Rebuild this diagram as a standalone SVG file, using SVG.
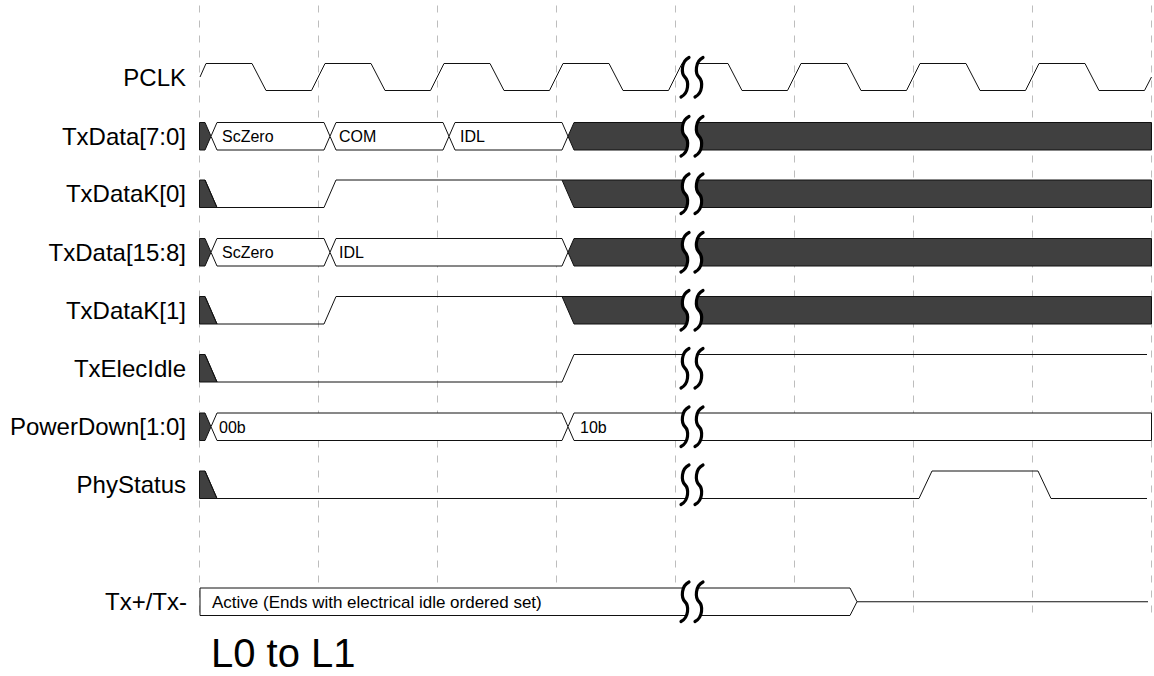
<svg xmlns="http://www.w3.org/2000/svg" width="1154" height="676" viewBox="0 0 1154 676">
<style>
.grid{stroke:#bdbdbd;stroke-width:1;stroke-dasharray:7 8;fill:none}
.w{fill:none;stroke:#111;stroke-width:1}
.box{fill:#fff;stroke:#111;stroke-width:1}
.dark{fill:#404040;stroke:#111;stroke-width:1}
.lbl{font-family:"Liberation Sans",Arial,sans-serif;font-size:24px;fill:#000;text-anchor:end}
.val{font-family:"Liberation Sans",Arial,sans-serif;font-size:16px;fill:#000}
.brk{fill:none;stroke:#000;stroke-width:3.2;stroke-linecap:round}
.gap{fill:#fff;stroke:none}
</style>
<defs>
<g id="brkshape">
<path class="gap" d="M689,-6 C681,-2 681,9.75 685,13.75 S689,29.5 681,33.5 L695,33.5 C703,29.5 703,17.75 699,13.75 S695,-2 703,-6 Z"/>
<path class="brk" d="M689,-6 C681,-2 681,9.75 685,13.75 S689,29.5 681,33.5"/>
<path class="brk" d="M703,-6 C695,-2 695,9.75 699,13.75 S703,29.5 695,33.5"/>
</g>
</defs>
<g id="grid">
<line class="grid" x1="199.5" y1="5.5" x2="199.5" y2="618"/>
<line class="grid" x1="318.5" y1="5.5" x2="318.5" y2="618"/>
<line class="grid" x1="437.5" y1="5.5" x2="437.5" y2="618"/>
<line class="grid" x1="556.5" y1="5.5" x2="556.5" y2="618"/>
<line class="grid" x1="675.5" y1="5.5" x2="675.5" y2="618"/>
<line class="grid" x1="794.5" y1="5.5" x2="794.5" y2="618"/>
<line class="grid" x1="913.5" y1="5.5" x2="913.5" y2="618"/>
<line class="grid" x1="1032.5" y1="5.5" x2="1032.5" y2="618"/>
<line class="grid" x1="1151.5" y1="5.5" x2="1151.5" y2="618"/>
</g>
<g id="PCLK">
<text class="lbl" x="186" y="85.5">PCLK</text>
<path class="w" d="M200,77 L206,63.5 H252 L266,90.5 H311.5 L325,63.5 H371 L385,90.5 H430.5 L444,63.5 H490 L504,90.5 H549.5 L563,63.5 H609 L623,90.5 H668.5 L682,63.5 H728 L742,90.5 H787.5 L801,63.5 H847 L861,90.5 H906.5 L920,63.5 H966 L980,90.5 H1025.5 L1039,63.5 H1085 L1099,90.5 H1144.5 L1151.5,77"/>
<use href="#brkshape" transform="translate(0,63.5)"/>
</g>
<g id="TxData70">
<text class="lbl" x="186" y="144.5">TxData[7:0]</text>
<polygon class="dark" points="199.5,122.5 205,122.5 211,136.25 205,150 199.5,150"/>
<polygon class="box" points="211,136.25 217,122.5 324,122.5 330,136.25 324,150 217,150"/>
<polygon class="box" points="330,136.25 336,122.5 443,122.5 449,136.25 443,150 336,150"/>
<polygon class="box" points="449,136.25 455,122.5 562,122.5 568,136.25 562,150 455,150"/>
<polygon class="dark" points="568,136.25 574,122.5 1151.5,122.5 1151.5,150 574,150"/>
<text class="val" x="222" y="142">ScZero</text>
<text class="val" x="339" y="142">COM</text>
<text class="val" x="460" y="142">IDL</text>
<use href="#brkshape" transform="translate(0,122.5)"/>
</g>
<g id="TxDataK0">
<text class="lbl" x="186" y="202">TxDataK[0]</text>
<polygon class="dark" points="199.5,180 205,180 217,207.5 199.5,207.5"/>
<path class="w" d="M205,180 L217,207.5 H324 L336,180 H562"/>
<polygon class="dark" points="562,180 1151.5,180 1151.5,207.5 574,207.5"/>
<use href="#brkshape" transform="translate(0,180)"/>
</g>
<g id="TxData158">
<text class="lbl" x="186" y="260.5">TxData[15:8]</text>
<polygon class="dark" points="199.5,238.5 205,238.5 211,252.25 205,266 199.5,266"/>
<polygon class="box" points="211,252.25 217,238.5 324,238.5 330,252.25 324,266 217,266"/>
<polygon class="box" points="330,252.25 336,238.5 562,238.5 568,252.25 562,266 336,266"/>
<polygon class="dark" points="568,252.25 574,238.5 1151.5,238.5 1151.5,266 574,266"/>
<text class="val" x="222" y="258">ScZero</text>
<text class="val" x="339" y="258">IDL</text>
<use href="#brkshape" transform="translate(0,238.5)"/>
</g>
<g id="TxDataK1">
<text class="lbl" x="186" y="318.5">TxDataK[1]</text>
<polygon class="dark" points="199.5,296.5 205,296.5 217,324 199.5,324"/>
<path class="w" d="M205,296.5 L217,324 H324 L336,296.5 H562"/>
<polygon class="dark" points="562,296.5 1151.5,296.5 1151.5,324 574,324"/>
<use href="#brkshape" transform="translate(0,296.5)"/>
</g>
<g id="TxElecIdle">
<text class="lbl" x="186" y="376.5">TxElecIdle</text>
<polygon class="dark" points="199.5,354.5 205,354.5 217,382 199.5,382"/>
<path class="w" d="M205,354.5 L217,382 H562 L574,354.5 H1147"/>
<use href="#brkshape" transform="translate(0,354.5)"/>
</g>
<g id="PowerDown">
<text class="lbl" x="186" y="435">PowerDown[1:0]</text>
<polygon class="dark" points="199.5,413 205,413 211,426.75 205,440.5 199.5,440.5"/>
<polygon class="box" points="211,426.75 217,413 562,413 568,426.75 562,440.5 217,440.5"/>
<polygon class="box" points="568,426.75 574,413 1151.5,413 1151.5,440.5 574,440.5"/>
<text class="val" x="219" y="432.5">00b</text>
<text class="val" x="580" y="432.5">10b</text>
<use href="#brkshape" transform="translate(0,413)"/>
</g>
<g id="PhyStatus">
<text class="lbl" x="186" y="493">PhyStatus</text>
<polygon class="dark" points="199.5,471 205,471 217,498.5 199.5,498.5"/>
<path class="w" d="M205,471 L217,498.5 H919 L932,471 H1038 L1051,498.5 H1147"/>
<use href="#brkshape" transform="translate(0,471)"/>
</g>
<g id="TxPM">
<text class="lbl" x="187" y="610">Tx+/Tx-</text>
<polygon class="box" points="200,588 850,588 857,601.75 850,615.5 200,615.5"/>
<path class="w" d="M857,601.75 H1148"/>
<text class="val" x="212" y="608" style="font-size:17px">Active (Ends with electrical idle ordered set)</text>
<use href="#brkshape" transform="translate(0,588)"/>
</g>
<g id="caption">
<text x="211" y="667" style="font-family:'Liberation Sans',Arial,sans-serif;font-size:40px;fill:#000">L0 to L1</text>
</g>
</svg>
